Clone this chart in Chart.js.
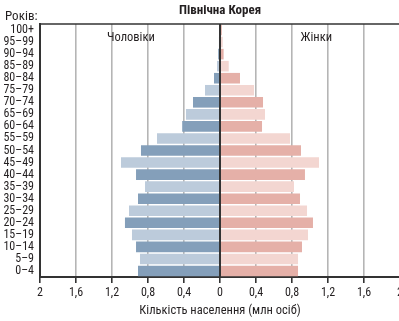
<!DOCTYPE html>
<html>
<head>
<meta charset="utf-8">
<script src="https://cdn.jsdelivr.net/npm/chart.js@4/dist/chart.umd.min.js"></script>
<style>
  body { margin: 0; overflow: hidden; background: #fff; }
  #wrap { position: relative; width: 420px; height: 321px; }
</style>
</head>
<body>
<div id="wrap"><canvas id="canvas"></canvas></div>
<script>
// вікові групи зверху вниз
const ages = ['100+', '95–99', '90–94', '85–89', '80–84', '75–79', '70–74', '65–69', '60–64',
    '55–59', '50–54', '45–49', '40–44', '35–39', '30–34', '25–29', '20–24', '15–19',
    '10–14', '5–9', '0–4'];
// млн осіб
const males = [0.01, 0.012, 0.02, 0.033, 0.067, 0.167, 0.3, 0.378, 0.42,
    0.70, 0.878, 1.10, 0.933, 0.833, 0.911, 1.011, 1.056, 0.978,
    0.933, 0.889, 0.911];
const females = [0.02, 0.03, 0.04, 0.097, 0.222, 0.378, 0.478, 0.5, 0.467,
    0.778, 0.9, 1.1, 0.944, 0.822, 0.889, 0.967, 1.033, 0.978,
    0.911, 0.867, 0.867];
const xTicks = [-2, -1.6, -1.2, -0.8, -0.4, 0, 0.4, 0.8, 1.2, 1.6, 2];

const FONT = "'Roboto Condensed', 'DejaVu Sans Condensed', sans-serif";
const INK = '#231f20';
const last = ages.length - 1;
// від 0–4 вгору: темна, світла, темна...
function shade(dark, light) {
    return ages.map((a, i) => ((last - i) % 2 === 0 ? dark : light));
}

const extras = {
    id: 'extras',
    afterDatasetsDraw(c) {
        const ctx = c.ctx;
        const x = c.scales.x;
        const area = c.chartArea;
        const x0 = x.getPixelForValue(0);
        ctx.save();
        ctx.strokeStyle = '#333';
        ctx.lineWidth = 2;
        ctx.beginPath();
        ctx.moveTo(x0, area.top);
        ctx.lineTo(x0, area.bottom);
        ctx.stroke();
        ctx.lineWidth = 1.5;
        ctx.beginPath();
        ctx.moveTo(area.left, area.top);
        ctx.lineTo(area.right, area.top);
        ctx.stroke();
        ctx.fillStyle = INK;
        ctx.textBaseline = 'middle';
        ctx.font = 'bold 13px ' + FONT;
        ctx.textAlign = 'center';
        ctx.fillText('Північна Корея', x0, 11);
        ctx.font = '12.5px ' + FONT;
        ctx.fillText('Чоловіки', x.getPixelForValue(-0.99), area.top + 14);
        ctx.fillText('Жінки', x.getPixelForValue(1.07), area.top + 14);
        ctx.textAlign = 'left';
        ctx.font = '13px ' + FONT;
        ctx.fillText('Років:', 5, 17);
        ctx.restore();
    }
};

new Chart(document.getElementById('canvas'), {
    type: 'bar',
    data: {
        labels: ages,
        datasets: [{
            label: 'Чоловіки',
            data: males.map(v => -v),
            backgroundColor: shade('#849fba', '#bccbdb'),
            barPercentage: 0.88,
            categoryPercentage: 1
        }, {
            label: 'Жінки',
            data: females,
            backgroundColor: shade('#e5b0a8', '#f3d6d1'),
            barPercentage: 0.88,
            categoryPercentage: 1
        }]
    },
    options: {
        indexAxis: 'y',
        responsive: true,
        maintainAspectRatio: false,
        animation: false,
        layout: { padding: { top: 24, right: 20, left: 0, bottom: 0 } },
        plugins: { legend: { display: false }, tooltip: { enabled: false } },
        scales: {
            x: {
                stacked: true,
                min: -2,
                max: 2,
                afterBuildTicks: s => { s.ticks = xTicks.map(v => ({ value: v })); },
                afterFit: s => { s.height = 44; },
                grid: {
                    color: '#b5b5b5',
                    lineWidth: 1.6,
                    tickColor: '#333',
                    tickLength: 6
                },
                border: { color: '#333', width: 2 },
                ticks: {
                    color: INK,
                    padding: 3,
                    font: { family: FONT, size: 12 },
                    callback: v => String(Math.abs(Math.round(v * 10) / 10)).replace('.', ',')
                },
                title: {
                    display: true,
                    text: 'Кількість населення (млн осіб)',
                    color: INK,
                    font: { family: FONT, size: 12.5 },
                    padding: { top: 1, bottom: 3 }
                }
            },
            y: {
                stacked: true,
                afterFit: s => { s.width = 40; },
                grid: { drawOnChartArea: false, drawTicks: false },
                border: { color: '#333', width: 2 },
                ticks: {
                    color: INK,
                    padding: 6,
                    autoSkip: false,
                    font: { family: FONT, size: 12 }
                }
            }
        }
    },
    plugins: [extras]
});
</script>
</body>
</html>
